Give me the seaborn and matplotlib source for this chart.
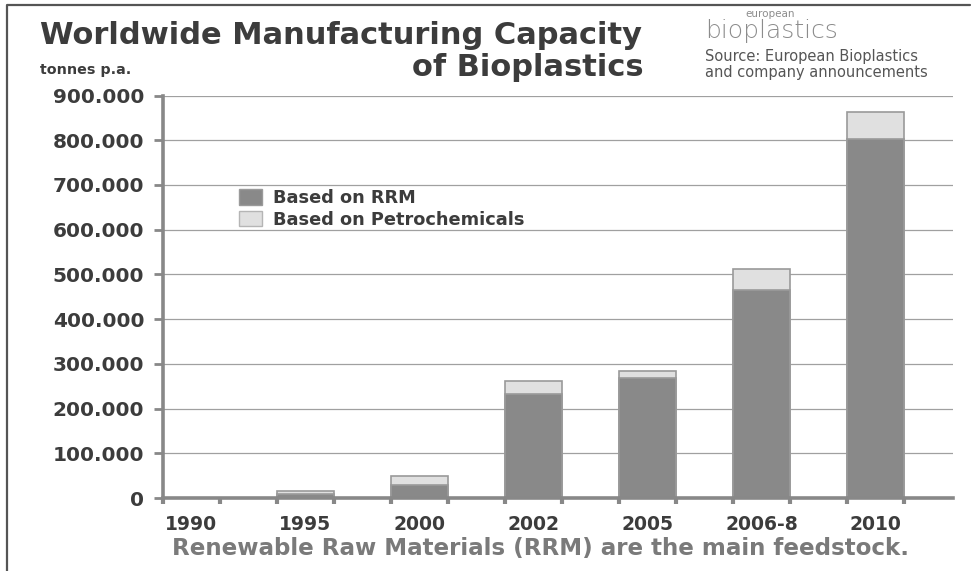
import matplotlib
matplotlib.use("Agg")
import matplotlib.pyplot as plt
from matplotlib.lines import Line2D
from matplotlib.patches import Patch
from matplotlib.ticker import FuncFormatter, FixedLocator
import seaborn as sns
import numpy as np

# data (tonnes per year)
years = ["1990", "1995", "2000", "2002", "2005", "2006-8", "2010"]
rrm = [0, 9000, 30000, 232000, 268000, 465000, 802000]
petro = [0, 6000, 20000, 30000, 17000, 48000, 60000]
totals = [r + p for r, p in zip(rrm, petro)]
y_ticks = [0, 100000, 200000, 300000, 400000, 500000, 600000, 700000, 800000, 900000]

W, H = 971, 571
dark = "#898989"
light = "#e0e0e0"
axis_col = "#888888"
txt_col = "#3c3c3c"

sns.set_style("white")
plt.rcParams["font.family"] = ["DejaVu Sans"]

fig = plt.figure(figsize=(W / 100, H / 100), dpi=100)
ax = fig.add_axes([163 / W, 1 - 498 / H, (953 - 163) / W, (498 - 95.5) / H])


def px(x, y):
    # pixel position -> figure fraction
    return x / W, 1 - y / H


# stacked bars: total (light) first, then RRM on top of it
sns.barplot(x=years, y=totals, color=light, saturation=1, width=0.5,
            edgecolor="#9a9a9a", linewidth=1.2, ax=ax, zorder=2)
sns.barplot(x=years, y=rrm, color=dark, saturation=1, width=0.5,
            edgecolor="#9a9a9a", linewidth=1.2, ax=ax, zorder=3)

ax.set_xlim(-0.25, 6.68)
ax.set_ylim(0, 900000)
ax.set_yticks(y_ticks)
ax.yaxis.set_major_formatter(FuncFormatter(lambda v, p: f"{int(v):,}".replace(",", ".")))
ax.set_xlabel("")
ax.set_ylabel("")

ax.grid(axis="y", color="#a0a0a0", linewidth=0.9, zorder=0)
ax.set_axisbelow(True)

for s in ["top", "right"]:
    ax.spines[s].set_visible(False)
for s in ["left", "bottom"]:
    ax.spines[s].set_color(axis_col)
    ax.spines[s].set_linewidth(2.6)
    ax.spines[s].set_zorder(5)

ax.tick_params(axis="y", left=True, length=6.5, width=2, color=axis_col, pad=7,
               labelsize=14.5, labelcolor=txt_col)
ax.tick_params(axis="x", which="major", bottom=True, length=0, pad=12,
               labelsize=13.5, labelcolor=txt_col)
ax.xaxis.set_minor_locator(FixedLocator(np.arange(-0.25, 6.5, 0.5)))
ax.tick_params(axis="x", which="minor", bottom=True, length=4, width=3, color=axis_col)
for lab in ax.get_xticklabels() + ax.get_yticklabels():
    lab.set_fontweight("bold")

handles = [Patch(facecolor=dark, edgecolor="#9a9a9a", label="Based on RRM"),
           Patch(facecolor=light, edgecolor="#b5b5b5", label="Based on Petrochemicals")]
ax.legend(handles=handles, loc="upper left", bbox_to_anchor=(0.085, 0.79),
          frameon=False, handlelength=1.3, handleheight=1.0, handletextpad=0.6,
          labelspacing=0.2, borderpad=0,
          prop={"weight": "bold", "size": 12.8}, labelcolor=txt_col)

# titles and notes
fig.text(*px(40, 35), "Worldwide Manufacturing Capacity", fontsize=22,
         fontweight="bold", color=txt_col, va="center", ha="left")
fig.text(*px(644, 68), "of Bioplastics", fontsize=22,
         fontweight="bold", color=txt_col, va="center", ha="right")
fig.text(*px(40, 70), "tonnes p.a.", fontsize=10.3, fontweight="bold",
         color=txt_col, va="center", ha="left")
fig.text(*px(705, 31), "bioplastics", fontsize=18, color="#8c8c8c",
         fontweight="light", va="center", ha="left")
fig.text(*px(745, 14), "european", fontsize=7.5, color="#8c8c8c",
         va="center", ha="left")
fig.text(*px(705, 57), "Source: European Bioplastics", fontsize=10.5,
         color="#555555", va="center", ha="left")
fig.text(*px(705, 72), "and company announcements", fontsize=10.5,
         color="#555555", va="center", ha="left")
fig.text(*px(540, 549), "Renewable Raw Materials (RRM) are the main feedstock.",
         fontsize=16.6, fontweight="bold", color="#7a7a7a", va="center", ha="center")

# page border on the left and top
fig.add_artist(Line2D([7 / W, 7 / W, 0.999], [0, 1 - 5 / H, 1 - 5 / H],
                      color="#555555", linewidth=1.6))

fig.savefig("out.png", dpi=100)
